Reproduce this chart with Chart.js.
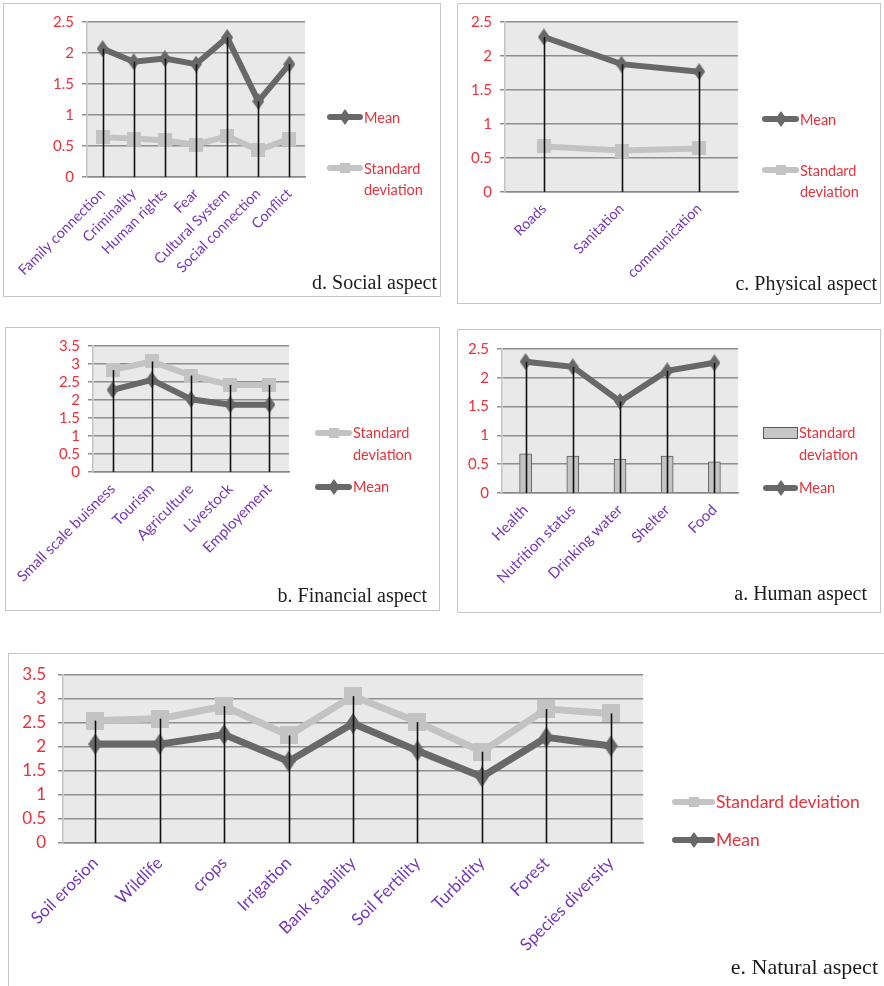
<!DOCTYPE html>
<html>
<head>
<meta charset="utf-8">
<script src="https://cdn.jsdelivr.net/npm/chart.js@4.4.0/dist/chart.umd.min.js"></script>
<style>
body { margin: 0; background: #fff; width: 884px; height: 986px; position: relative; overflow: hidden; font-family: Lato, sans-serif; }
.panel { position: absolute; border: 1px solid #c6c6c6; box-sizing: border-box; background: #fff; }
.panel canvas { position: absolute; left: 0; top: 0; }
.cap { position: absolute; font-family: "Liberation Serif", serif; color: #1c1c1c; white-space: nowrap; transform: translateY(-50%); }
.leg { position: absolute; color: #e8313a; white-space: nowrap; }
.sym { position: absolute; }
</style>
</head>
<body>

<div class="panel" id="boxD"><canvas id="chartD"></canvas></div>
<div class="panel" id="boxC"><canvas id="chartC"></canvas></div>
<div class="panel" id="boxB"><canvas id="chartB"></canvas></div>
<div class="panel" id="boxA"><canvas id="chartA"></canvas></div>
<div class="panel" id="boxE"><canvas id="chartE"></canvas></div>

<script>
// d. Social aspect
const socialLabels = ['Family connection', 'Criminality', 'Human rights', 'Fear', 'Cultural System', 'Social connection', 'Conflict'];
const socialMean = [2.07, 1.86, 1.91, 1.82, 2.25, 1.22, 1.82];
const socialSD = [0.64, 0.62, 0.59, 0.52, 0.66, 0.43, 0.62];

// c. Physical aspect
const physicalLabels = ['Roads', 'Sanitation', 'communication'];
const physicalMean = [2.28, 1.88, 1.77];
const physicalSD = [0.67, 0.61, 0.64];

// b. Financial aspect
const financialLabels = ['Small scale buisness', 'Tourism', 'Agriculture', 'Livestock', 'Employement'];
const financialSD = [2.83, 3.07, 2.68, 2.42, 2.42];
const financialMean = [2.28, 2.56, 2.02, 1.87, 1.87];

// a. Human aspect
const humanLabels = ['Health', 'Nutrition status', 'Drinking water', 'Shelter', 'Food'];
const humanMean = [2.28, 2.19, 1.59, 2.12, 2.26];
const humanSD = [0.68, 0.64, 0.59, 0.64, 0.54];

// e. Natural aspect
const naturalLabels = ['Soil erosion', 'Wildlife', 'crops', 'Irrigation', 'Bank stability', 'Soil Fertility', 'Turbidity', 'Forest', 'Species diversity'];
const naturalSD = [2.55, 2.59, 2.85, 2.24, 3.06, 2.52, 1.90, 2.79, 2.70];
const naturalMean = [2.06, 2.06, 2.26, 1.70, 2.49, 1.92, 1.38, 2.20, 2.02];

const yMaxSmall = 2.5;
const yMaxLarge = 3.5;
const yStep = 0.5;

const RED = '#e8313a';
const PURPLE = '#7438b8';
const MEAN_COL = '#686868';
const SD_COL = '#c3c3c3';

function diamond(w, h, color) {
    const c = document.createElement('canvas');
    c.width = w; c.height = h;
    const g = c.getContext('2d');
    g.fillStyle = color;
    g.beginPath();
    g.moveTo(w / 2, 0); g.lineTo(w, h / 2); g.lineTo(w / 2, h); g.lineTo(0, h / 2);
    g.closePath(); g.fill();
    return c;
}
function square(s, color) {
    const c = document.createElement('canvas');
    c.width = s; c.height = s;
    const g = c.getContext('2d');
    g.fillStyle = color;
    g.fillRect(0, 0, s, s);
    return c;
}

// grey plot area
const plotBg = {
    id: 'plotBg',
    beforeDraw(chart) {
        const { ctx, chartArea: a } = chart;
        ctx.save();
        ctx.fillStyle = '#e9e9e9';
        ctx.fillRect(a.left, a.top, a.width, a.height);
        ctx.restore();
    }
};

// black drop lines from the highest point of each category to the axis
const dropLines = {
    id: 'dropLines',
    afterDatasetsDraw(chart) {
        const { ctx, scales: { x, y } } = chart;
        ctx.save();
        ctx.strokeStyle = '#111';
        ctx.lineWidth = 1.6;
        chart.data.labels.forEach((l, i) => {
            const top = Math.max(...chart.data.datasets.map(d => d.data[i]));
            const px = Math.round(x.getPixelForValue(i)) + 0.5;
            ctx.beginPath();
            ctx.moveTo(px, y.getPixelForValue(top));
            ctx.lineTo(px, y.getPixelForValue(0));
            ctx.stroke();
        });
        ctx.restore();
    }
};

function lineSet(label, data, color, style, width, order) {
    return {
        type: 'line', label, data,
        borderColor: color, backgroundColor: color,
        borderWidth: width, pointStyle: style,
        pointRadius: 6, pointHoverRadius: 6,
        tension: 0, order
    };
}

function makePanel(p) {
    const box = document.getElementById(p.boxId);
    box.style.left = p.box.x + 'px';
    box.style.top = p.box.y + 'px';
    box.style.width = p.box.w + 'px';
    box.style.height = p.box.h + 'px';
    const cw = p.box.w - 2, ch = p.box.h - 2;
    const ox = p.box.x + 1, oy = p.box.y + 1;
    const canvas = document.getElementById(p.canvasId);
    canvas.width = cw; canvas.height = ch;
    canvas.style.width = cw + 'px'; canvas.style.height = ch + 'px';

    new Chart(canvas, {
        type: p.type || 'line',
        data: { labels: p.labels, datasets: p.datasets },
        options: {
            responsive: false,
            animation: false,
            devicePixelRatio: 1,
            layout: { padding: { left: 0, top: p.plot.t - oy, right: ox + cw - p.plot.r, bottom: 0 } },
            plugins: { legend: { display: false }, tooltip: { enabled: false } },
            scales: {
                x: {
                    offset: true,
                    grid: { display: false, drawTicks: false },
                    border: { display: true, color: '#8a8a8a', width: 1.5 },
                    ticks: {
                        color: PURPLE, font: { family: 'Lato', size: p.xFont },
                        minRotation: 45, maxRotation: 45, autoSkip: false, padding: p.xPad
                    },
                    afterFit(s) { s.height = oy + ch - p.plot.b; s.paddingLeft = 0; s.paddingRight = 0; }
                },
                y: {
                    min: 0, max: p.yMax,
                    ticks: {
                        stepSize: yStep, autoSkip: false, color: RED,
                        font: { family: 'Lato', size: p.yFont }, padding: p.yPad,
                        callback: v => String(v)
                    },
                    grid: { color: '#8e8e8e', lineWidth: 1.5, tickLength: 5 },
                    border: { color: '#c4c4c4', width: 1.5 },
                    afterFit(s) { s.width = p.plot.l - ox; s.paddingTop = 0; s.paddingBottom = 0; }
                }
            }
        },
        plugins: [plotBg, dropLines]
    });

    // legend (html)
    p.legend.forEach(it => {
        const sym = document.createElement('div');
        sym.className = 'sym';
        sym.style.left = it.x + 'px';
        sym.style.top = (it.y - 10) + 'px';
        sym.style.width = it.w + 'px';
        sym.style.height = '20px';
        if (it.kind === 'bar') {
            sym.innerHTML = `<div style="position:absolute;left:0;top:4px;width:${it.w - 2}px;height:10px;background:#c6c6c6;border:1px solid #5a5a5a"></div>`;
        } else {
            const col = it.kind === 'mean' ? MEAN_COL : SD_COL;
            let mk;
            if (it.kind === 'mean') {
                mk = `<div style="position:absolute;left:${it.w / 2 - 4}px;top:6px;width:8px;height:8px;background:${col};transform:scaleY(1.4) rotate(45deg)"></div>`;
            } else {
                mk = `<div style="position:absolute;left:${it.w / 2 - 5}px;top:5px;width:10px;height:10px;background:${col}"></div>`;
            }
            sym.innerHTML = `<div style="position:absolute;left:0;top:7px;width:${it.w}px;height:6px;border-radius:3px;background:${col}"></div>` + mk;
        }
        document.body.appendChild(sym);
        const t = document.createElement('div');
        t.className = 'leg';
        t.style.left = (it.x + it.w + 1) + 'px';
        t.style.top = (it.y - it.lh / 2) + 'px';
        t.style.fontSize = it.fs + 'px';
        t.style.lineHeight = it.lh + 'px';
        t.innerHTML = it.text;
        document.body.appendChild(t);
    });

    const cap = document.createElement('div');
    cap.className = 'cap';
    cap.textContent = p.caption.text;
    cap.style.fontSize = p.caption.fs + 'px';
    cap.style.right = (884 - p.caption.r) + 'px';
    cap.style.top = p.caption.y + 'px';
    document.body.appendChild(cap);
}

const dSm = diamond(12, 17, MEAN_COL);
const dLg = diamond(14, 21, MEAN_COL);
const sSm = square(14, SD_COL);
const sLg = square(18, SD_COL);

makePanel({
    boxId: 'boxD', canvasId: 'chartD',
    box: { x: 3, y: 3, w: 438, h: 294 },
    plot: { l: 87, r: 305, t: 22, b: 177 },
    labels: socialLabels, yMax: yMaxSmall, xFont: 14.5, yFont: 15, xPad: 8, yPad: 8,
    datasets: [
        lineSet('Mean', socialMean, MEAN_COL, dSm, 6, 0),
        lineSet('Standard deviation', socialSD, SD_COL, sSm, 6, 1)
    ],
    legend: [
        { x: 327, y: 117, w: 36, kind: 'mean', text: 'Mean', fs: 14.5, lh: 21 },
        { x: 327, y: 168, w: 36, kind: 'sd', text: 'Standard<br>deviation', fs: 14.5, lh: 21 }
    ],
    caption: { text: 'd. Social aspect', fs: 20, r: 437, y: 282 }
});

makePanel({
    boxId: 'boxC', canvasId: 'chartC',
    box: { x: 457, y: 3, w: 424, h: 301 },
    plot: { l: 505, r: 738, t: 22, b: 192 },
    labels: physicalLabels, yMax: yMaxSmall, xFont: 14.5, yFont: 15, xPad: 8, yPad: 8,
    datasets: [
        lineSet('Mean', physicalMean, MEAN_COL, dSm, 6, 0),
        lineSet('Standard deviation', physicalSD, SD_COL, sSm, 6, 1)
    ],
    legend: [
        { x: 762, y: 119, w: 37, kind: 'mean', text: 'Mean', fs: 14.5, lh: 21 },
        { x: 762, y: 170, w: 37, kind: 'sd', text: 'Standard<br>deviation', fs: 14.5, lh: 21 }
    ],
    caption: { text: 'c. Physical aspect', fs: 20, r: 877, y: 283 }
});

makePanel({
    boxId: 'boxB', canvasId: 'chartB',
    box: { x: 5, y: 327, w: 435, h: 284 },
    plot: { l: 93, r: 289, t: 346, b: 472 },
    labels: financialLabels, yMax: yMaxLarge, xFont: 15, yFont: 15, xPad: 8, yPad: 8,
    datasets: [
        lineSet('Standard deviation', financialSD, SD_COL, sSm, 6, 1),
        lineSet('Mean', financialMean, MEAN_COL, dSm, 6, 0)
    ],
    legend: [
        { x: 315, y: 433, w: 37, kind: 'sd', text: 'Standard<br>deviation', fs: 14.5, lh: 22 },
        { x: 315, y: 487, w: 37, kind: 'mean', text: 'Mean', fs: 14.5, lh: 22 }
    ],
    caption: { text: 'b. Financial aspect', fs: 20, r: 427, y: 595 }
});

makePanel({
    boxId: 'boxA', canvasId: 'chartA', type: 'bar',
    box: { x: 457, y: 329, w: 424, h: 284 },
    plot: { l: 502, r: 738, t: 349, b: 493 },
    labels: humanLabels, yMax: yMaxSmall, xFont: 15, yFont: 15, xPad: 8, yPad: 8,
    datasets: [
        {
            type: 'bar', label: 'Standard deviation', data: humanSD,
            backgroundColor: '#c4c4c4', borderColor: '#5a5a5a', borderWidth: 1,
            barThickness: 12, order: 1
        },
        lineSet('Mean', humanMean, MEAN_COL, dSm, 6, 0)
    ],
    legend: [
        { x: 763, y: 433, w: 35, kind: 'bar', text: 'Standard<br>deviation', fs: 14.5, lh: 22 },
        { x: 763, y: 488, w: 35, kind: 'mean', text: 'Mean', fs: 14.5, lh: 22 }
    ],
    caption: { text: 'a. Human aspect', fs: 20, r: 867, y: 593 }
});

makePanel({
    boxId: 'boxE', canvasId: 'chartE',
    box: { x: 8, y: 653, w: 886, h: 343 },
    plot: { l: 63, r: 643, t: 675, b: 843 },
    labels: naturalLabels, yMax: yMaxLarge, xFont: 17, yFont: 17, xPad: 10, yPad: 12,
    datasets: [
        lineSet('Standard deviation', naturalSD, SD_COL, sLg, 7, 1),
        lineSet('Mean', naturalMean, MEAN_COL, dLg, 7, 0)
    ],
    legend: [
        { x: 672, y: 802, w: 43, kind: 'sd', text: 'Standard deviation', fs: 17.5, lh: 22 },
        { x: 672, y: 840, w: 43, kind: 'mean', text: 'Mean', fs: 17.5, lh: 22 }
    ],
    caption: { text: 'e. Natural aspect', fs: 22, r: 878, y: 967 }
});
</script>
</body>
</html>
